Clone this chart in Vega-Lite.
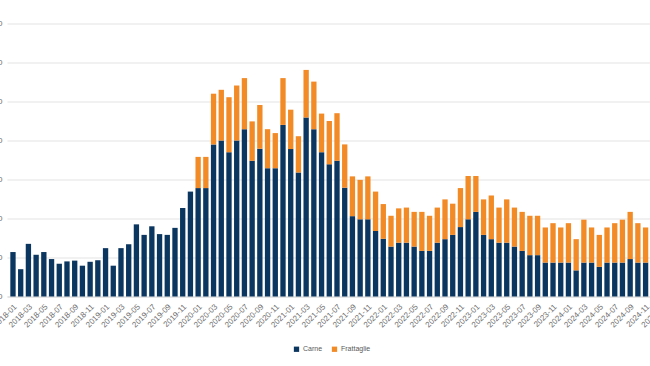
{
  "$schema": "https://vega.github.io/schema/vega-lite/v6.json",
  "autosize": "none",
  "width": 643,
  "height": 273,
  "padding": {"left": 7, "top": 23.5, "right": 0, "bottom": 69.5},
  "background": "white",
  "config": {"view": {"stroke": null}, "font": "Liberation Sans"},
  "data": {"values": [
    {"m":"2018-01","s":"Carne","v":114},{"m":"2018-02","s":"Carne","v":70},{"m":"2018-03","s":"Carne","v":135},{"m":"2018-04","s":"Carne","v":107},
    {"m":"2018-05","s":"Carne","v":114},{"m":"2018-06","s":"Carne","v":96},{"m":"2018-07","s":"Carne","v":84},{"m":"2018-08","s":"Carne","v":90},
    {"m":"2018-09","s":"Carne","v":92},{"m":"2018-10","s":"Carne","v":79},{"m":"2018-11","s":"Carne","v":89},{"m":"2018-12","s":"Carne","v":93},
    {"m":"2019-01","s":"Carne","v":124},{"m":"2019-02","s":"Carne","v":79},{"m":"2019-03","s":"Carne","v":124},{"m":"2019-04","s":"Carne","v":134},
    {"m":"2019-05","s":"Carne","v":185},{"m":"2019-06","s":"Carne","v":158},{"m":"2019-07","s":"Carne","v":180},{"m":"2019-08","s":"Carne","v":160},
    {"m":"2019-09","s":"Carne","v":158},{"m":"2019-10","s":"Carne","v":176},{"m":"2019-11","s":"Carne","v":227},{"m":"2019-12","s":"Carne","v":269},
    {"m":"2020-01","s":"Carne","v":278},{"m":"2020-02","s":"Carne","v":278},{"m":"2020-03","s":"Carne","v":390},{"m":"2020-04","s":"Carne","v":400},
    {"m":"2020-05","s":"Carne","v":370},{"m":"2020-06","s":"Carne","v":400},{"m":"2020-07","s":"Carne","v":429},{"m":"2020-08","s":"Carne","v":348},
    {"m":"2020-09","s":"Carne","v":379},{"m":"2020-10","s":"Carne","v":329},{"m":"2020-11","s":"Carne","v":329},{"m":"2020-12","s":"Carne","v":440},
    {"m":"2021-01","s":"Carne","v":378},{"m":"2021-02","s":"Carne","v":318},{"m":"2021-03","s":"Carne","v":459},{"m":"2021-04","s":"Carne","v":429},
    {"m":"2021-05","s":"Carne","v":370},{"m":"2021-06","s":"Carne","v":339},{"m":"2021-07","s":"Carne","v":348},{"m":"2021-08","s":"Carne","v":279},
    {"m":"2021-09","s":"Carne","v":206},{"m":"2021-10","s":"Carne","v":198},{"m":"2021-11","s":"Carne","v":198},{"m":"2021-12","s":"Carne","v":168},
    {"m":"2022-01","s":"Carne","v":148},{"m":"2022-02","s":"Carne","v":128},{"m":"2022-03","s":"Carne","v":138},{"m":"2022-04","s":"Carne","v":138},
    {"m":"2022-05","s":"Carne","v":128},{"m":"2022-06","s":"Carne","v":117},{"m":"2022-07","s":"Carne","v":117},{"m":"2022-08","s":"Carne","v":138},
    {"m":"2022-09","s":"Carne","v":147},{"m":"2022-10","s":"Carne","v":158},{"m":"2022-11","s":"Carne","v":178},{"m":"2022-12","s":"Carne","v":198},
    {"m":"2023-01","s":"Carne","v":217},{"m":"2023-02","s":"Carne","v":158},{"m":"2023-03","s":"Carne","v":147},{"m":"2023-04","s":"Carne","v":138},
    {"m":"2023-05","s":"Carne","v":138},{"m":"2023-06","s":"Carne","v":128},{"m":"2023-07","s":"Carne","v":117},{"m":"2023-08","s":"Carne","v":106},
    {"m":"2023-09","s":"Carne","v":106},{"m":"2023-10","s":"Carne","v":87},{"m":"2023-11","s":"Carne","v":87},{"m":"2023-12","s":"Carne","v":87},
    {"m":"2024-01","s":"Carne","v":87},{"m":"2024-02","s":"Carne","v":67},{"m":"2024-03","s":"Carne","v":87},{"m":"2024-04","s":"Carne","v":87},
    {"m":"2024-05","s":"Carne","v":76},{"m":"2024-06","s":"Carne","v":87},{"m":"2024-07","s":"Carne","v":87},{"m":"2024-08","s":"Carne","v":87},
    {"m":"2024-09","s":"Carne","v":96},{"m":"2024-10","s":"Carne","v":87},{"m":"2024-11","s":"Carne","v":87},
    {"m":"2020-01","s":"Frattaglie","v":80},{"m":"2020-02","s":"Frattaglie","v":80},{"m":"2020-03","s":"Frattaglie","v":130},{"m":"2020-04","s":"Frattaglie","v":130},
    {"m":"2020-05","s":"Frattaglie","v":141},{"m":"2020-06","s":"Frattaglie","v":141},{"m":"2020-07","s":"Frattaglie","v":131},{"m":"2020-08","s":"Frattaglie","v":101},
    {"m":"2020-09","s":"Frattaglie","v":112},{"m":"2020-10","s":"Frattaglie","v":100},{"m":"2020-11","s":"Frattaglie","v":90},{"m":"2020-12","s":"Frattaglie","v":120},
    {"m":"2021-01","s":"Frattaglie","v":101},{"m":"2021-02","s":"Frattaglie","v":93},{"m":"2021-03","s":"Frattaglie","v":122},{"m":"2021-04","s":"Frattaglie","v":122},
    {"m":"2021-05","s":"Frattaglie","v":99},{"m":"2021-06","s":"Frattaglie","v":111},{"m":"2021-07","s":"Frattaglie","v":122},{"m":"2021-08","s":"Frattaglie","v":111},
    {"m":"2021-09","s":"Frattaglie","v":102},{"m":"2021-10","s":"Frattaglie","v":101},{"m":"2021-11","s":"Frattaglie","v":110},{"m":"2021-12","s":"Frattaglie","v":101},
    {"m":"2022-01","s":"Frattaglie","v":89},{"m":"2022-02","s":"Frattaglie","v":79},{"m":"2022-03","s":"Frattaglie","v":88},{"m":"2022-04","s":"Frattaglie","v":90},
    {"m":"2022-05","s":"Frattaglie","v":89},{"m":"2022-06","s":"Frattaglie","v":100},{"m":"2022-07","s":"Frattaglie","v":90},{"m":"2022-08","s":"Frattaglie","v":90},
    {"m":"2022-09","s":"Frattaglie","v":102},{"m":"2022-10","s":"Frattaglie","v":80},{"m":"2022-11","s":"Frattaglie","v":100},{"m":"2022-12","s":"Frattaglie","v":111},
    {"m":"2023-01","s":"Frattaglie","v":92},{"m":"2023-02","s":"Frattaglie","v":91},{"m":"2023-03","s":"Frattaglie","v":112},{"m":"2023-04","s":"Frattaglie","v":90},
    {"m":"2023-05","s":"Frattaglie","v":111},{"m":"2023-06","s":"Frattaglie","v":100},{"m":"2023-07","s":"Frattaglie","v":100},{"m":"2023-08","s":"Frattaglie","v":101},
    {"m":"2023-09","s":"Frattaglie","v":101},{"m":"2023-10","s":"Frattaglie","v":90},{"m":"2023-11","s":"Frattaglie","v":101},{"m":"2023-12","s":"Frattaglie","v":90},
    {"m":"2024-01","s":"Frattaglie","v":101},{"m":"2024-02","s":"Frattaglie","v":80},{"m":"2024-03","s":"Frattaglie","v":110},{"m":"2024-04","s":"Frattaglie","v":90},
    {"m":"2024-05","s":"Frattaglie","v":82},{"m":"2024-06","s":"Frattaglie","v":90},{"m":"2024-07","s":"Frattaglie","v":101},{"m":"2024-08","s":"Frattaglie","v":110},
    {"m":"2024-09","s":"Frattaglie","v":121},{"m":"2024-10","s":"Frattaglie","v":101},{"m":"2024-11","s":"Frattaglie","v":90}
  ]},
  "mark": {"type": "bar"},
  "encoding": {
    "x": {
      "field": "m", "type": "ordinal",
      "scale": {
        "domain": ["2018-01","2018-02","2018-03","2018-04","2018-05","2018-06","2018-07","2018-08","2018-09","2018-10","2018-11","2018-12",
                   "2019-01","2019-02","2019-03","2019-04","2019-05","2019-06","2019-07","2019-08","2019-09","2019-10","2019-11","2019-12",
                   "2020-01","2020-02","2020-03","2020-04","2020-05","2020-06","2020-07","2020-08","2020-09","2020-10","2020-11","2020-12",
                   "2021-01","2021-02","2021-03","2021-04","2021-05","2021-06","2021-07","2021-08","2021-09","2021-10","2021-11","2021-12",
                   "2022-01","2022-02","2022-03","2022-04","2022-05","2022-06","2022-07","2022-08","2022-09","2022-10","2022-11","2022-12",
                   "2023-01","2023-02","2023-03","2023-04","2023-05","2023-06","2023-07","2023-08","2023-09","2023-10","2023-11","2023-12",
                   "2024-01","2024-02","2024-03","2024-04","2024-05","2024-06","2024-07","2024-08","2024-09","2024-10","2024-11","2024-12",
                   "2025-01"],
        "range": [0, 660],
        "paddingInner": 0.31,
        "paddingOuter": 0.43
      },
      "axis": {
        "title": null,
        "labelAngle": -45,
        "labelFontSize": 8,
        "labelColor": "#6e6e6e",
        "labelExpr": "parseInt(substring(datum.label,5,7)) % 2 == 1 ? datum.label : ''",
        "ticks": false,
        "labelPadding": 6,
        "domainColor": "#d9d9d9",
        "grid": false
      }
    },
    "y": {
      "field": "v", "type": "quantitative", "stack": "zero",
      "scale": {"domain": [0, 700]},
      "axis": {
        "title": null,
        "values": [0,100,200,300,400,500,600,700],
        "labelFontSize": 8,
        "labelColor": "#6e6e6e",
        "ticks": false,
        "domain": false,
        "labelPadding": 5,
        "gridColor": "#e3e3e3"
      }
    },
    "color": {
      "field": "s", "type": "nominal",
      "scale": {"domain": ["Carne","Frattaglie"], "range": ["#0b365f","#f28a26"]},
      "legend": {
        "title": null,
        "orient": "none",
        "legendX": 286,
        "legendY": 322,
        "direction": "horizontal",
        "symbolType": "square",
        "symbolSize": 28,
        "labelFontSize": 7,
        "labelColor": "#595959",
        "labelOffset": 3,
        "columnPadding": 8
      }
    },
    "order": {"field": "s", "sort": "ascending"}
  }
}
